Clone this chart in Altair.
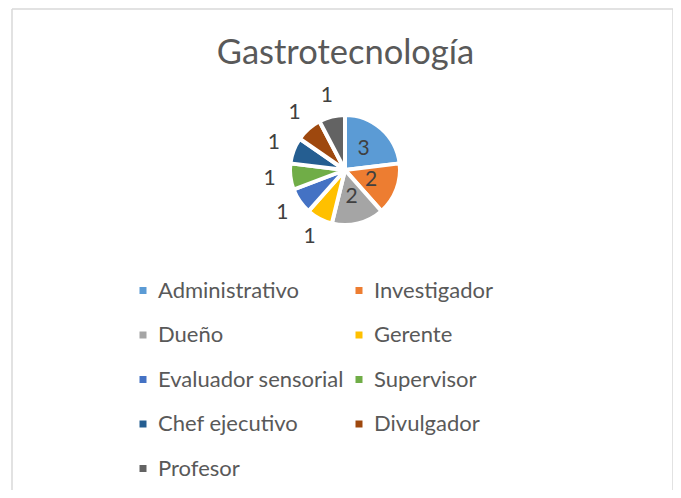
import altair as alt
import pandas as pd

categorias = ["Administrativo", "Investigador", "Dueño", "Gerente", "Evaluador sensorial",
              "Supervisor", "Chef ejecutivo", "Divulgador", "Profesor"]
valores = [3, 2, 2, 1, 1, 1, 1, 1, 1]
colores = ["#5B9BD5", "#ED7D31", "#A5A5A5", "#FFC000", "#4472C4",
           "#70AD47", "#255E91", "#9E480E", "#636363"]
titulo = "Gastrotecnología"

df = pd.DataFrame({"cat": categorias, "valor": valores, "orden": list(range(len(categorias)))})

W, H = 661, 481
CX, CY = 333, 161
FRAME = "#d9d9d9"

arcs = alt.Chart(df).mark_arc(outerRadius=55, stroke="white", strokeWidth=4).encode(
    theta=alt.Theta("valor:Q", stack=True),
    order=alt.Order("orden:Q"),
    color=alt.Color(
        "cat:N",
        scale=alt.Scale(domain=categorias, range=colores),
        legend=alt.Legend(
            orient="none", legendX=120, legendY=270.5, columns=2, direction="horizontal",
            symbolType="square", symbolSize=49, symbolStrokeWidth=0,
            labelFont="Lato", labelFontSize=22, labelColor="#595959",
            rowPadding=22.5, columnPadding=4, labelOffset=4, padding=0,
            title=None, labelLimit=400,
        ),
    ),
    x=alt.value(CX), y=alt.value(CY),
)

labels = alt.Chart(df).transform_window(
    acum="sum(valor)", sort=[alt.SortField("orden")]
).transform_calculate(
    medio="datum.acum - datum.valor / 2",
    lr="datum.valor > 1 ? 28 : 76",
).mark_text(font="Lato", fontSize=21, color="#404040", align="center", baseline="middle").encode(
    theta=alt.Theta("medio:Q", stack=None),
    radius=alt.Radius("lr:Q", scale=None),
    text=alt.Text("valor:Q"),
    x=alt.value(CX), y=alt.value(CY),
)

title = alt.Chart(pd.DataFrame({"t": [titulo]})).mark_text(
    font="Lato", fontSize=34.5, color="#595959", align="center", baseline="alphabetic"
).encode(text="t:N", x=alt.value(W / 2 + 3), y=alt.value(55))

frame_df = pd.DataFrame({"k": [0]})
left = alt.Chart(frame_df).mark_rule(color=FRAME, strokeWidth=1.5).encode(
    x=alt.value(0), y=alt.value(0), y2=alt.value(H))
right = alt.Chart(frame_df).mark_rule(color=FRAME, strokeWidth=1.5).encode(
    x=alt.value(W), y=alt.value(0), y2=alt.value(H))
top = alt.Chart(frame_df).mark_rule(color=FRAME, strokeWidth=1.5).encode(
    x=alt.value(0), x2=alt.value(W), y=alt.value(0))

chart = alt.layer(arcs, labels, title, left, right, top).properties(
    width=W, height=H,
    autosize=alt.AutoSizeParams(type="none"),
    padding={"left": 4, "top": 1, "right": 0, "bottom": 0},
).configure_view(stroke=None)

chart.save("out.html", embed_options={"renderer": "svg", "actions": False})
